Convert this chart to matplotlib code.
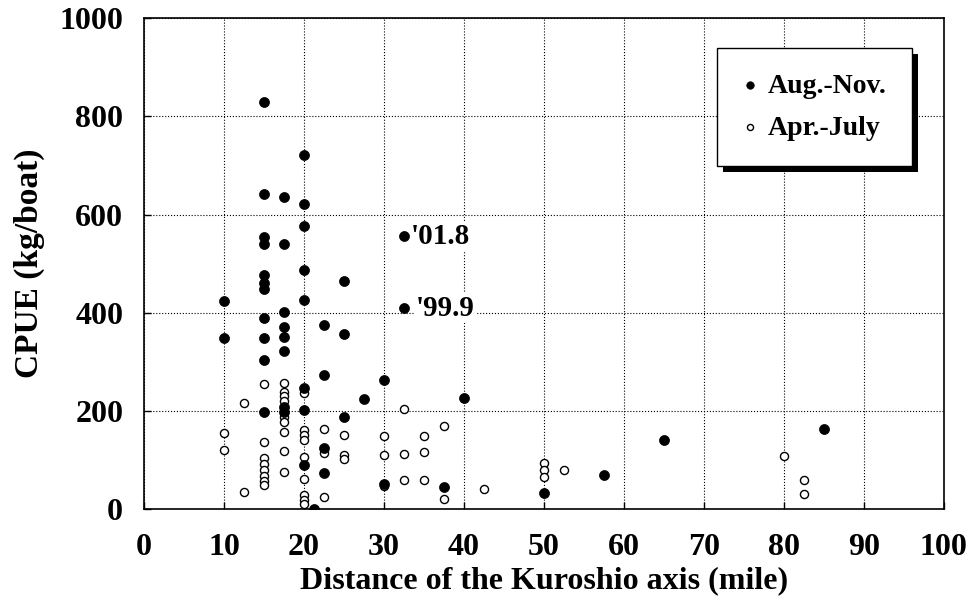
import matplotlib.pyplot as plt
from matplotlib.patches import Rectangle

plt.rcParams["font.family"] = ["Liberation Serif", "DejaVu Serif"]
plt.rcParams["font.weight"] = "bold"

# Aug.-Nov. (filled)
aug_x = [15, 20, 15, 17.5, 20, 20, 15, 15, 17.5, 15, 20, 25,
         15, 15, 10, 20, 17.5, 15, 22.5, 17.5, 17.5, 10, 15, 25, 17.5, 15,
         22.5, 20, 27.5, 15, 17.5, 17.5, 20, 25, 22.5, 20, 22.5, 21.3,
         32.5, 32.5, 30, 40, 65, 30, 37.5, 50, 57.5, 85]
aug_y = [830, 721, 642, 636, 621, 577, 555, 541, 540, 477, 487, 465,
         460, 448, 424, 427, 402, 390, 376, 372, 351, 348, 348, 356, 322, 303,
         274, 246, 224, 198, 208, 198, 202, 187, 124, 90, 74, 0,
         556, 409, 264, 227, 140, 52, 45, 32, 69, 164]

# Apr.-July (open)
apr_x = [10, 10, 12.5, 12.5, 15, 15, 15, 15, 15, 15, 15, 15,
         17.5, 17.5, 17.5, 17.5, 17.5, 17.5, 17.5, 17.5, 17.5,
         20, 20, 20, 20, 20, 20, 20, 20, 20,
         22.5, 22.5, 22.5, 25, 25, 25,
         32.5, 37.5, 30, 35, 30, 32.5, 35, 32.5, 35, 30, 37.5, 42.5,
         50, 50, 50, 52.5, 80, 82.5, 82.5]
apr_y = [156, 120, 217, 34, 254, 136, 104, 92, 80, 68, 58, 50,
         257, 239, 230, 221, 188, 178, 157, 119, 76,
         237, 161, 151, 141, 107, 62, 28, 18, 10,
         164, 114, 24, 151, 110, 103,
         203, 169, 149, 149, 110, 113, 117, 59, 59, 47, 20, 41,
         94, 79, 66, 79, 108, 60, 30]

notes = ["'01.8", "'99.9"]
note_x = [33.4, 34.0]
note_y = [556, 409]

fig = plt.figure(figsize=(9.76, 6.09), dpi=100)
ax = fig.add_axes([0.1475, 0.164, 0.8195, 0.806])

ax.scatter(aug_x, aug_y, s=52, c="black", edgecolors="black", linewidths=0.5,
           zorder=4, label="Aug.-Nov.")
ax.scatter(apr_x, apr_y, s=34, facecolors="white", edgecolors="black",
           linewidths=1.0, zorder=3, label="Apr.-July")

for t, x, y in zip(notes, note_x, note_y):
    ax.text(x, y, t, fontsize=21, fontweight="bold", va="center", ha="left",
            bbox=dict(fc="white", ec="none", pad=1), zorder=5)

ax.set_xlim(0, 100)
ax.set_ylim(0, 1000)
ax.set_xticks(range(0, 101, 10))
ax.set_yticks(range(0, 1001, 200))
ax.grid(True, color="black", linestyle=":", linewidth=0.8)
ax.set_axisbelow(True)
ax.tick_params(direction="in", length=5, width=1, labelsize=23)
ax.tick_params(axis="x", pad=17)
ax.tick_params(axis="y", pad=15)
for s in ax.spines.values():
    s.set_linewidth(1.2)

ax.set_xlabel("Distance of the Kuroshio axis (mile)", fontsize=23,
              fontweight="bold", labelpad=3)
ax.set_ylabel("CPUE (kg/boat)", fontsize=24, fontweight="bold", labelpad=10)

leg = ax.legend(loc="upper right", bbox_to_anchor=(0.96, 0.939),
                fontsize=20, frameon=True, fancybox=False, framealpha=1,
                edgecolor="black", borderpad=0.9, labelspacing=0.6,
                handletextpad=0.35, markerscale=0.75, handlelength=0.6,
                borderaxespad=0)
leg.get_frame().set_linewidth(1.0)
leg.set_zorder(10)

fig.canvas.draw()
bb = leg.get_window_extent().transformed(fig.transFigure.inverted())
dx, dy = 6 / 976, 6 / 609
fig.patches.append(Rectangle((bb.x0 + dx, bb.y0 - dy), bb.width, bb.height,
                             transform=fig.transFigure, fc="black", ec="none",
                             zorder=1))
# keep legend above its shadow
ax.set_zorder(2)
ax.patch.set_visible(False)

fig.savefig("out.png", dpi=100)
